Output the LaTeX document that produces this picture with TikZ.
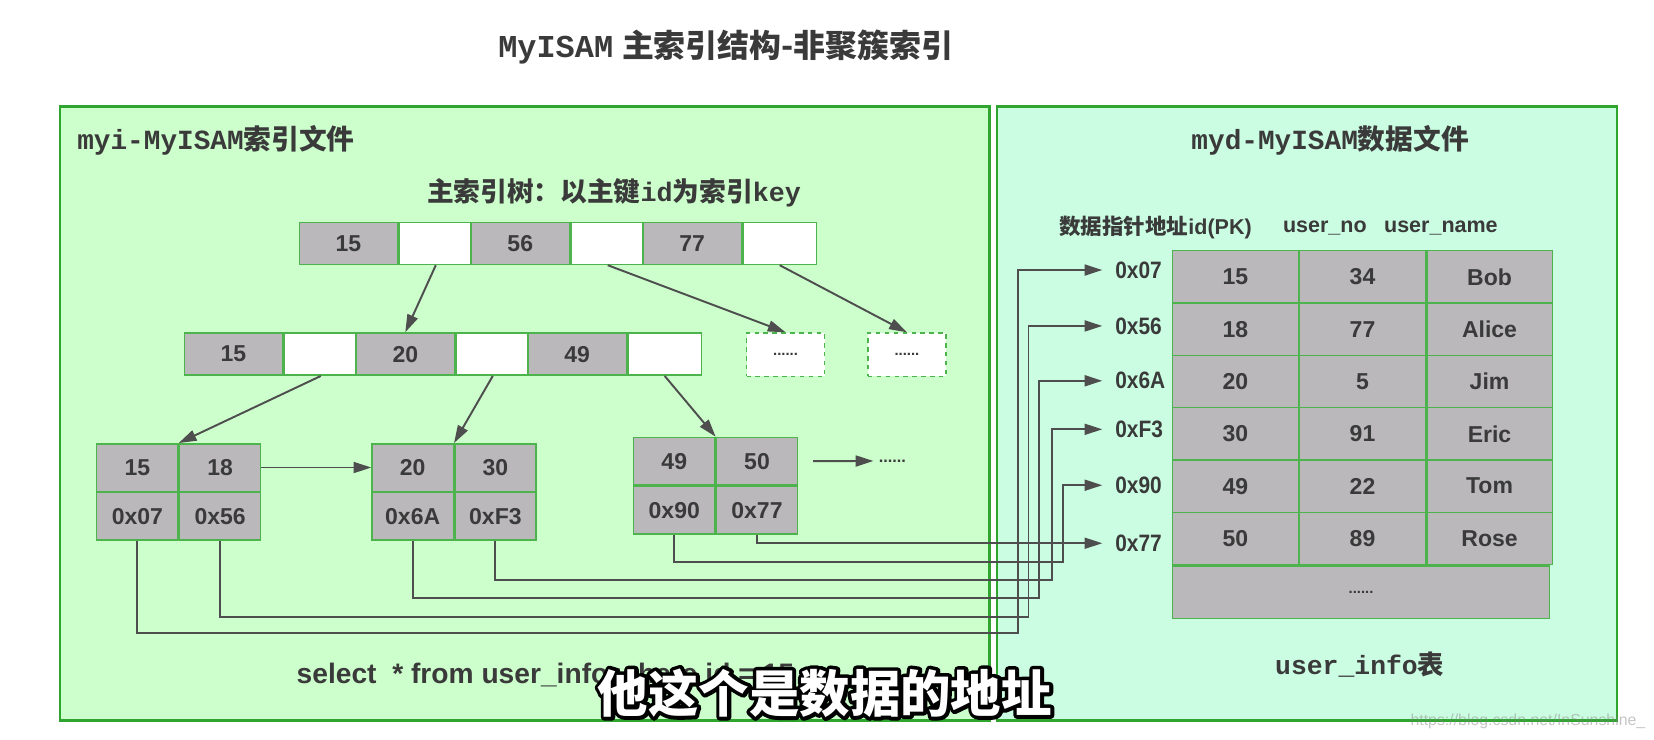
\documentclass[tikz,border=0pt]{standalone}
\usepackage{fontspec}
\setmainfont{Liberation Sans}
\newfontfamily\cjk{Noto Sans CJK SC}
\newfontfamily\mono{Liberation Mono}
\newfontfamily\narrow[FakeStretch=0.88]{Liberation Sans}
\usepackage{xcolor}
\usepackage{tikz}
\usetikzlibrary{positioning,arrows.meta}
\definecolor{leftfill}{HTML}{CCFFCC}
\definecolor{rightfill}{HTML}{CBFDE2}
\definecolor{panelstroke}{HTML}{2FA52F}
\definecolor{cellfill}{HTML}{BAB8BB}
\definecolor{cellstroke}{HTML}{4DB34D}
\definecolor{inktext}{HTML}{3A3A3A}
\definecolor{wirecol}{HTML}{4E4E4E}
\newcommand{\outlined}[1]{%
  \textcolor{black}{\special{pdf:literal direct 1 Tr 5 w 1 j}\rlap{#1}\special{pdf:literal direct 0 Tr}}%
  \textcolor{white}{#1}}
\tikzset{
  panel/.style={draw=panelstroke, line width=1.7pt},
  keycell/.style={draw=cellstroke, fill=cellfill, line width=1pt,
                  minimum width=2.325cm, minimum height=1cm, inner sep=0pt,
                  text=inktext, font=\bfseries\fontsize{15.5}{16}\selectfont},
  ptrcell/.style={keycell, fill=white, minimum width=1.75cm},
  morebox/.style={draw=cellstroke, dashed, fill=white, line width=1pt,
                  minimum width=1.85cm, minimum height=1.025cm, inner sep=0pt,
                  text=inktext, font=\bfseries\fontsize{10}{10}\selectfont},
  leafcell/.style={keycell, minimum width=1.925cm, minimum height=1.125cm},
  rowcell/.style={keycell, minimum width=2.975cm, minimum height=1.24cm},
  treearrow/.style={-{Triangle[length=0.42cm,width=0.26cm]}, draw=wirecol,
                    line width=1.3pt},
  wire/.style={treearrow},
  addr/.style={anchor=west, inner xsep=0.3cm, inner ysep=0pt, text=inktext,
               font=\narrow\bfseries\fontsize{16}{16}\selectfont},
  hdr/.style={text=inktext, inner sep=0pt,
              font=\bfseries\fontsize{14.5}{15}\selectfont},
  caption/.style={text=inktext, inner sep=0pt},
  subtitle/.style={inner sep=0pt, font=\cjk\bfseries\fontsize{34}{34}\selectfont}
}

\begin{document}
\begin{tikzpicture}[x=0.025cm, y=-0.025cm]
  \useasboundingbox[fill=white] (0,0) rectangle (1568,701);

  % ===== Title and the two files =====
  \node[caption, font=\fontsize{21.5}{22}\selectfont] (title) at (688,45)
    {{\mono\bfseries MyISAM}~{\cjk\bfseries 主索引结构-非聚簇索引}};

  \draw[panel, fill=leftfill]  (57,101) rectangle (938,683);
  \draw[panel, fill=rightfill] (945,101) rectangle (1533,683);

  \node[caption, anchor=west, font=\fontsize{18.7}{19}\selectfont] (myi) at (73,133)
    {{\mono\bfseries myi-MyISAM}{\cjk\bfseries 索引文件}};
  \node[caption, font=\fontsize{18.7}{19}\selectfont] (myd) at (1261,133)
    {{\mono\bfseries myd-MyISAM}{\cjk\bfseries 数据文件}};
  \node[caption, font=\fontsize{18}{18}\selectfont] (treelbl) at (582,183)
    {{\cjk\bfseries 主索引树：以主键}{\mono\bfseries id}{\cjk\bfseries 为索引}{\mono\bfseries key}};

  % ===== B+ tree: root and second level =====
  \foreach \k [count=\i from 0] in {15,56,77} {
    \pgfmathsetmacro{\cx}{283+\i*163}
    \node[keycell, anchor=north west] (r-k\i) at (\cx,210) {\k};
    \node[ptrcell, right=0pt of r-k\i] (r-p\i) {};
  }
  \foreach \k [count=\i from 0] in {15,20,49} {
    \pgfmathsetmacro{\cx}{174+\i*163}
    \node[keycell, anchor=north west] (m-k\i) at (\cx,315) {\k};
    \node[ptrcell, right=0pt of m-k\i] (m-p\i) {};
  }
  \node[morebox, anchor=north west] (d1) at (707,315) {......};
  \node[morebox, anchor=north west] (d2) at (822,315) {......};

  % ===== Leaves: key row over address row =====
  \foreach \leaf/\lx/\ly/\ka/\kb/\aa/\ab in {A/91/420/15/18/0x07/0x56,
                                             B/352/420/20/30/0x6A/0xF3,
                                             C/600/414/49/50/0x90/0x77} {
    \node[leafcell, anchor=north west] (l\leaf-k1) at (\lx,\ly) {\ka};
    \node[leafcell, right=0pt of l\leaf-k1] (l\leaf-k2) {\kb};
    \node[leafcell, below=0pt of l\leaf-k1] (l\leaf-a1) {\aa};
    \node[leafcell, below=0pt of l\leaf-k2] (l\leaf-a2) {\ab};
  }
  \node[caption, font=\bfseries\fontsize{11}{11}\selectfont] (more) at (846,437) {......};

  % tree arrows
  \draw[treearrow] (r-p0.south) -- (m-k1.north);
  \draw[treearrow] (r-p1.south) -- (d1.north);
  \draw[treearrow] (r-p2.south) -- (d2.north);
  \draw[treearrow] (m-p0.south) -- (lA-k1.north east);
  \draw[treearrow] (m-p1.south) -- (lB-k1.north east);
  \draw[treearrow] (m-p2.south) -- (lC-k1.north east);
  \draw[treearrow] (lA-k2.east) -- (lB-k1.west);
  \draw[treearrow, shorten <=0.35cm, shorten >=0.12cm] (lC-k2.east) -- (more.west);

  % ===== Data file: user_info table =====
  \node[hdr, anchor=west] (h-ptr) at (1004,216) {{\cjk 数据指针地址}id(PK)};
  \node[hdr] (h-no)   at (1256,216) {user\_no};
  \node[hdr] (h-name) at (1366,216) {user\_name};

  \foreach \id/\no/\nm [count=\i from 0] in {15/34/Bob,18/77/Alice,20/5/Jim,
                                             30/91/Eric,49/22/Tom,50/89/Rose} {
    \pgfmathsetmacro{\ty}{237+\i*49.6}
    \node[rowcell, anchor=north west] (t-\i-a) at (1111,\ty) {\id};
    \node[rowcell, right=0pt of t-\i-a] (t-\i-b) {\no};
    \node[rowcell, right=0pt of t-\i-b] (t-\i-c) {\nm};
  }
  \node[rowcell, minimum width=8.925cm, anchor=north west,
        font=\bfseries\fontsize{10}{10}\selectfont] (t-more) at (t-5-a.south west) {......};

  \node[caption, font=\fontsize{17.8}{18}\selectfont] (tblname) at (1289,630)
    {{\mono\bfseries user\_info}{\cjk\bfseries 表}};

  % pointer labels
  \node[addr] (p07) at (1045,256) {0x07};
  \node[addr] (p56) at (1045,309) {0x56};
  \node[addr] (p6A) at (1045,361) {0x6A};
  \node[addr] (pF3) at (1045,407) {0xF3};
  \node[addr] (p90) at (1045,460) {0x90};
  \node[addr] (p77) at (1045,515) {0x77};

  % ===== Address wires =====
  \coordinate (b07) at (965,600);
  \coordinate (b56) at (975,585);
  \coordinate (b6A) at (985,567);
  \coordinate (bF3) at (997,550);
  \coordinate (b90) at (1008,533);
  \draw[wire] (lA-a1.south) |- (b07) |- (p07.west);
  \draw[wire] (lA-a2.south) |- (b56) |- (p56.west);
  \draw[wire] (lB-a1.south) |- (b6A) |- (p6A.west);
  \draw[wire] (lB-a2.south) |- (bF3) |- (pF3.west);
  \draw[wire] (lC-a1.south) |- (b90) |- (p90.west);
  \draw[wire] (lC-a2.south) |- (p77.west);

  % ===== Query line, subtitle, watermark =====
  \node[caption, anchor=west, font=\bfseries\fontsize{19}{19}\selectfont] (sql) at (281,640)
    {select\ \ * from user\_info where id = 15};

  \node[subtitle] (sub) at (782,657) {\outlined{他这个是数据的地址}};

  \node[anchor=east, inner sep=0pt, text=gray, opacity=0.45,
        font=\fontsize{10.7}{11}\selectfont] (wm) at (1560,684) {https://blog.csdn.net/InSunshine\_};
\end{tikzpicture}
\end{document}
